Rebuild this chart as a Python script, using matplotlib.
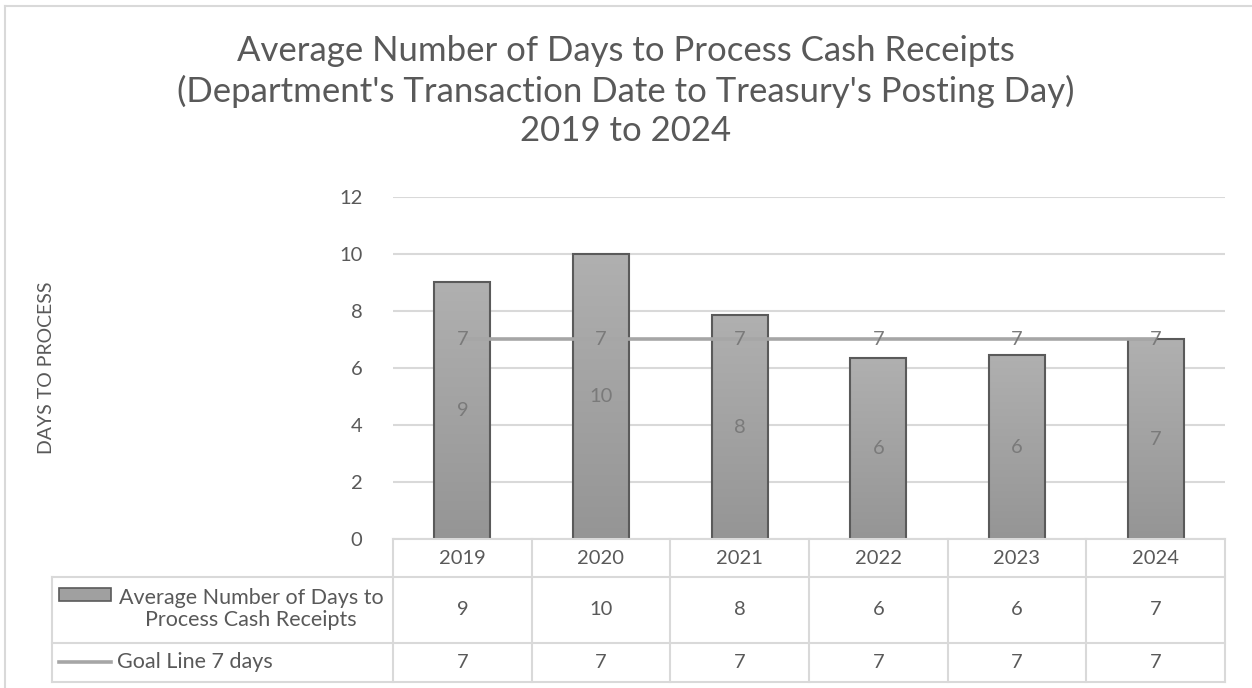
import matplotlib
matplotlib.use("Agg")
import matplotlib.pyplot as plt
import numpy as np
from matplotlib.patches import Rectangle
from matplotlib.lines import Line2D
import matplotlib.transforms as mtransforms
from matplotlib.colors import LinearSegmentedColormap

# ---------------- data ----------------
years = ["2019", "2020", "2021", "2022", "2023", "2024"]
avg_days = [9.0, 10.0, 7.85, 6.35, 6.45, 7.0]
goal_days = [7, 7, 7, 7, 7, 7]
series_label = "Average Number of Days to\nProcess Cash Receipts"
goal_label = "Goal Line 7 days"
title = ("Average Number of Days to Process Cash Receipts\n"
         "(Department's Transaction Date to Treasury's Posting Day)\n"
         "2019 to 2024")
y_label = "DAYS TO PROCESS"
y_ticks = [0, 2, 4, 6, 8, 10, 12]

# ---------------- style ----------------
FONT = "Lato"
plt.rcParams["font.family"] = [FONT, "DejaVu Sans"]
TXT = "#595959"
LBL = "#7a7a7a"
GRID = "#d9d9d9"
GOAL = "#a6a6a6"
EDGE = "#5a5a5a"
NUM_FS = 14.5
TXT_FS = 15.5

W, H = 1252, 688
fig = plt.figure(figsize=(W / 100, H / 100), dpi=100)

def fx(px):
    return px / W

def fy(py):
    return 1 - py / H

# figure border (top & left visible)
fig.add_artist(Line2D([fx(5), fx(1252)], [fy(6), fy(6)], color=GRID, lw=1.5))
fig.add_artist(Line2D([fx(5), fx(5)], [fy(6), fy(688)], color=GRID, lw=1.5))

# axes placement
x0, x1 = 393, 1225
ytop, ybot = 196.7, 539.3
ax = fig.add_axes([fx(x0), fy(ybot), fx(x1 - x0), (ybot - ytop) / H])
n = len(years)
xs = np.arange(n)
for s in ax.spines.values():
    s.set_visible(False)
ax.set_yticks(y_ticks)
ax.set_yticklabels([str(t) for t in y_ticks], fontsize=NUM_FS, color=TXT)
ax.tick_params(axis="y", length=0, pad=22)
ax.set_xticks([])
ax.yaxis.grid(True, color=GRID, lw=1.5)
ax.set_axisbelow(True)
ax.set_ylabel(y_label, fontsize=14, color=TXT, labelpad=0)
ax.yaxis.set_label_coords((55 - x0) / (x1 - x0), 0.5 - (368 - (ytop + ybot) / 2) / (ybot - ytop))

# bars with gradient
bw = 0.405
grad = np.linspace(0, 1, 256).reshape(-1, 1)
cmap = LinearSegmentedColormap.from_list("g", ["#959595", "#b0b0b0"])
bars = ax.bar(xs, avg_days, width=bw, color="none", edgecolor=EDGE, linewidth=1.5, zorder=3)
for b in bars:
    bx, by = b.get_x(), b.get_y()
    bh, bwid = b.get_height(), b.get_width()
    im = ax.imshow(grad, extent=[bx, bx + bwid, by, by + bh], origin="lower",
                   cmap=cmap, aspect="auto", zorder=2)
    im.set_clip_path(b)
ax.set_xlim(-0.5, n - 0.5)
ax.set_ylim(0, 12)

# goal line
ax.plot(xs, goal_days, color=GOAL, lw=2.6, zorder=4, solid_capstyle="butt")

# data labels
for x, v in zip(xs, avg_days):
    ax.text(x, v / 2, f"{round(v):d}", ha="center", va="center", fontsize=NUM_FS, color=LBL, zorder=5)
for x, v in zip(xs, goal_days):
    ax.text(x, v, f"{v:d}", ha="center", va="center", fontsize=NUM_FS, color=LBL, zorder=5)

# title
fig.text(0.5, fy(91), title, ha="center", va="center", fontsize=25, color=TXT,
         linespacing=1.28)

# ---------------- data table ----------------
tr = mtransforms.blended_transform_factory(ax.transData, fig.transFigure)
trf = fig.transFigure
r_top, r1, r2, r3 = 539.3, 576.7, 642.7, 681.7
lab_left = 52
lw_t = 1.5
for yy in (r1, r2, r3):
    fig.add_artist(Line2D([fx(lab_left), fx(x1)], [fy(yy), fy(yy)], color=GRID, lw=lw_t))
fig.add_artist(Line2D([fx(x0), fx(x1)], [fy(r_top), fy(r_top)], color=GRID, lw=lw_t))
fig.add_artist(Line2D([fx(lab_left), fx(lab_left)], [fy(r1), fy(r3)], color=GRID, lw=lw_t))
for k in range(n + 1):
    ax.add_line(Line2D([k - 0.5, k - 0.5], [fy(r_top), fy(r3)], color=GRID, lw=lw_t,
                       transform=tr, clip_on=False))
for x, yr, v, g in zip(xs, years, avg_days, goal_days):
    ax.text(x, fy((r_top + r1) / 2), yr, transform=tr, ha="center", va="center",
            fontsize=NUM_FS, color=TXT, clip_on=False)
    ax.text(x, fy((r1 + r2) / 2), f"{round(v):d}", transform=tr, ha="center", va="center",
            fontsize=NUM_FS, color=TXT, clip_on=False)
    ax.text(x, fy((r2 + r3) / 2), f"{g:d}", transform=tr, ha="center", va="center",
            fontsize=NUM_FS, color=TXT, clip_on=False)

# legend keys in table
sw = Rectangle((fx(59), fy(601)), fx(52), 13 / H, transform=trf, facecolor="#a0a0a0",
               edgecolor=EDGE, lw=1.2)
fig.add_artist(sw)
fig.add_artist(Line2D([fx(59), fx(111)], [fy(662), fy(662)], color=GOAL, lw=2.6))
fig.text(fx(251), fy(609), series_label, ha="center", va="center", fontsize=TXT_FS,
         color=TXT, linespacing=1.1)
fig.text(fx(117), fy(662), goal_label, ha="left", va="center", fontsize=TXT_FS, color=TXT)

fig.savefig("out.png", dpi=100)
